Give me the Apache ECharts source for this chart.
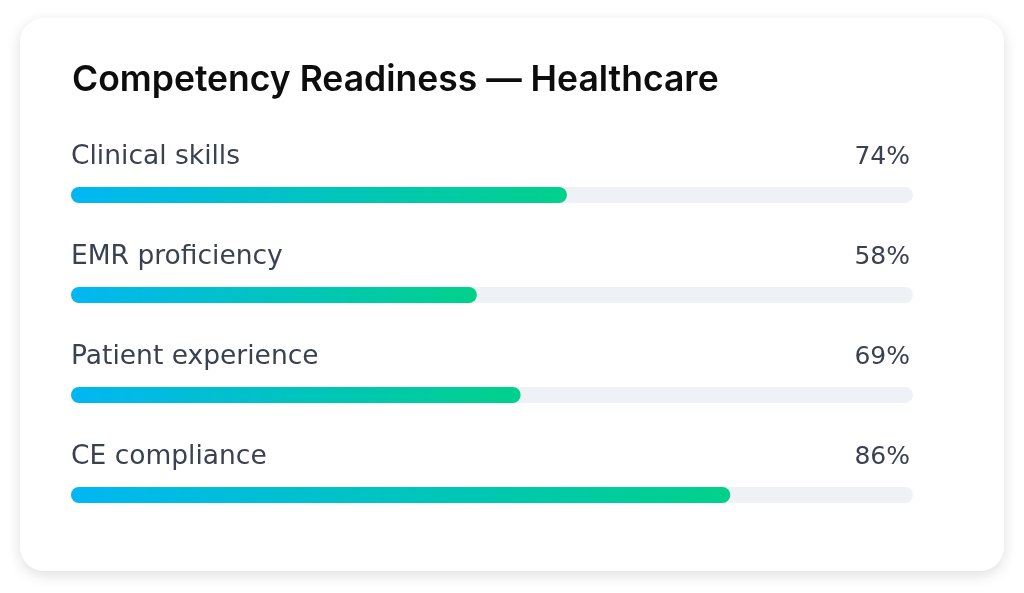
<!DOCTYPE html>
<html>
<head>
<meta charset="utf-8">
<script src="https://cdn.jsdelivr.net/npm/echarts@6/dist/echarts.min.js"></script>
<style>
  html, body { margin: 0; padding: 0; background: #ffffff; }
  #card {
    position: absolute; left: 20px; top: 18px; width: 984px; height: 553px;
    background: #fff; border-radius: 24px;
    box-shadow: 0 4px 14px rgba(0, 0, 0, 0.13);
  }
  #chart { position: absolute; left: 0; top: 0; width: 1024px; height: 593px; }
</style>
</head>
<body>
<div id="card"></div>
<div id="chart"></div>
<script>
// skill areas, top to bottom
const skills = ['Clinical skills', 'EMR proficiency', 'Patient experience', 'CE compliance'];
// percentages printed at the right of each row
const shownPct = [74, 58, 69, 86];
// filled length of each bar (track = 100)
const barFill = [58.9, 48.2, 53.4, 78.3];
const trackMax = [100, 100, 100, 100];

const titleFont = 'Inter, "Noto Sans", sans-serif';
const labelFont = '"DejaVu Sans", "Noto Sans", sans-serif';

const chart = echarts.init(document.getElementById('chart'));

chart.setOption({
  animation: false,
  title: {
    text: 'Competency Readiness — Healthcare',
    left: 67,
    top: 57,
    textStyle: { fontFamily: titleFont, fontSize: 35.5, fontWeight: 600, color: '#0d0d0d' }
  },
  grid: { left: 71, right: 111, top: 145, height: 400 },
  xAxis: { type: 'value', min: 0, max: 100, show: false },
  yAxis: {
    type: 'category', data: skills, inverse: true, show: false
  },
  series: [
    {
      // grey track + percentage text on the right
      type: 'bar',
      data: trackMax,
      barWidth: 16,
      silent: true,
      itemStyle: { color: '#eef2f7', borderRadius: 8 },
      label: {
        show: true,
        position: ['100%', -30],
        align: 'right',
        verticalAlign: 'middle',
        offset: [-3, 0],
        formatter: p => shownPct[p.dataIndex] + '%',
        fontFamily: labelFont, fontSize: 25, color: '#3a4150'
      },
      z: 1
    },
    {
      // gradient fill + skill name on the left
      type: 'bar',
      data: barFill,
      barWidth: 16,
      barGap: '-100%',
      itemStyle: {
        borderRadius: 8,
        color: new echarts.graphic.LinearGradient(0, 0, 1, 0, [
          { offset: 0, color: '#00b7f3' },
          { offset: 1, color: '#00d18a' }
        ])
      },
      label: {
        show: true,
        position: [0, -30],
        align: 'left',
        verticalAlign: 'middle',
        offset: [0, 0],
        formatter: p => skills[p.dataIndex],
        fontFamily: labelFont, fontSize: 26.5, color: '#3a4150'
      },
      z: 2
    }
  ]
});
</script>
</body>
</html>
